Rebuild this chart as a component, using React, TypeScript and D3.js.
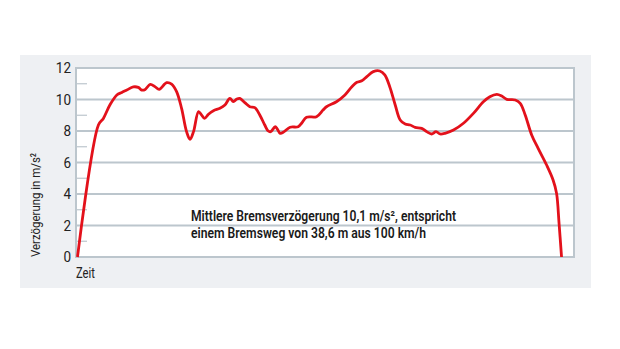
import React from "react";
import * as d3 from "d3";

const yTicks = [0, 2, 4, 6, 8, 10, 12];
const yMinorTicks = [1, 3, 5, 7, 9, 11];

const timeValues = [
  0.3, 4.5, 5.5, 6.8, 8.2, 9.2, 10.2, 11.5, 12.5, 13.2, 13.9, 14.9, 15.9, 16.7, 18.2, 19.2, 20.2, 21.2, 22.2, 22.9, 23.6,
  24.6, 25.2, 25.8, 26.6, 27.6, 28.9, 29.9, 30.9, 31.6, 32.3, 32.9, 33.9, 34.9, 35.9, 36.9, 37.9, 38.6, 39.1, 40.0, 40.4,
  41.0, 41.8, 43.0, 44.6, 45.3, 46.3, 48.3, 49.6, 50.3, 52.3, 54.0, 55.4, 56.4, 57.4, 58.4, 59.7, 61.0, 62.0, 63.0, 64.1,
  65.1, 66.1, 67.1, 68.1, 69.4, 70.4, 71.4, 72.3, 73.1, 74.1, 75.8, 77.8, 79.8, 81.8, 83.1, 84.5, 85.5, 86.5, 88.2, 89.2,
  90.2, 91.5, 92.8, 94.5, 95.8, 96.5, 97.0, 97.5,
];
const decelValues = [
  0.0, 8.38, 8.8, 9.65, 10.29, 10.45, 10.6, 10.8, 10.77, 10.6, 10.64, 10.96, 10.8, 10.64, 11.07, 10.98, 10.5, 9.44, 7.96,
  7.47, 7.96, 9.23, 9.02, 8.8, 9.06, 9.29, 9.44, 9.65, 10.07, 9.86, 10.03, 10.07, 9.8, 9.54, 9.48, 9.02, 8.38, 8.0, 7.96,
  8.27, 8.13, 7.85, 7.96, 8.24, 8.27, 8.49, 8.87, 8.91, 9.33, 9.54, 9.86, 10.29, 10.81, 11.09, 11.19, 11.45, 11.77, 11.81,
  11.56, 10.81, 9.65, 8.7, 8.44, 8.38, 8.23, 8.17, 7.96, 7.81, 7.96, 7.81, 7.85, 8.06, 8.49, 9.12, 9.86, 10.18, 10.33,
  10.22, 10.01, 9.97, 9.76, 9.02, 7.75, 6.9, 5.84, 4.89, 4.04, 2.14, 0.0,
];

const yLabel = "Verzögerung in m/s²";
const xLabel = "Zeit";
const noteLines = [
  "Mittlere Bremsverzögerung 10,1 m/s², entspricht",
  "einem Bremsweg von 38,6 m aus 100 km/h",
];
const noteWidths = [265, 235];

const W = 620;
const H = 349;
const plot = { left: 76, right: 574, top: 68, bottom: 257 };
const FONT = "Roboto, 'DejaVu Sans Condensed', sans-serif";

export default function App() {
  const x = d3.scaleLinear().domain([0, 100]).range([plot.left, plot.right]);
  const y = d3.scaleLinear().domain([0, 12]).range([plot.bottom, plot.top]);
  const pts: [number, number][] = timeValues.map((t, i) => [t, decelValues[i]]);
  const line = d3
    .line<[number, number]>()
    .x((d) => x(d[0]))
    .y((d) => y(d[1]))
    .curve(d3.curveCatmullRom.alpha(0.5));
  const grid = "#bcc6cd";

  return (
    <svg width={W} height={H} style={{ position: "absolute", left: 0, top: 0 }}>
      <rect x={0} y={0} width={W} height={H} fill="#ffffff" />
      <rect x={20} y={55} width={571} height={233} fill="#eef0f3" />
      <rect
        x={plot.left}
        y={plot.top}
        width={plot.right - plot.left}
        height={plot.bottom - plot.top}
        fill="#ffffff"
      />
      {yTicks.slice(1, -1).map((v) => (
        <line key={v} x1={plot.left} x2={plot.right} y1={y(v)} y2={y(v)} stroke={grid} strokeWidth={2} />
      ))}
      {yMinorTicks.map((v) => (
        <line key={v} x1={plot.left} x2={plot.left + 11} y1={y(v)} y2={y(v)} stroke={grid} strokeWidth={1.2} />
      ))}
      <rect
        x={plot.left}
        y={plot.top}
        width={plot.right - plot.left}
        height={plot.bottom - plot.top}
        fill="none"
        stroke={grid}
        strokeWidth={2}
      />
      {yTicks.map((v) => {
        const s = String(v);
        const w = s.length * 7.6;
        return (
          <text
            key={v}
            x={71 - w}
            y={y(v)}
            dy="0.36em"
            fontFamily={FONT}
            fontSize={14.5}
            fill="#222"
            textLength={w}
            lengthAdjust="spacingAndGlyphs"
          >
            {s}
          </text>
        );
      })}
      <text
        transform={`translate(39.5, 257) rotate(-90)`}
        fontFamily={FONT}
        fontSize={13.5}
        fill="#222"
        textLength={104}
        lengthAdjust="spacingAndGlyphs"
      >
        {yLabel}
      </text>
      <text
        x={76}
        y={278}
        fontFamily={FONT}
        fontSize={14}
        fill="#222"
        textLength={19}
        lengthAdjust="spacingAndGlyphs"
      >
        {xLabel}
      </text>
      {noteLines.map((s, i) => (
        <text
          key={i}
          x={191}
          y={221 + i * 17}
          fontFamily={FONT}
          fontSize={14.5}
          fontWeight={600}
          fill="#1a1a1a"
          textLength={noteWidths[i]}
          lengthAdjust="spacingAndGlyphs"
        >
          {s}
        </text>
      ))}
      <path d={line(pts) || ""} fill="none" stroke="#e3111b" strokeWidth={2.8} strokeLinejoin="round" />
    </svg>
  );
}
